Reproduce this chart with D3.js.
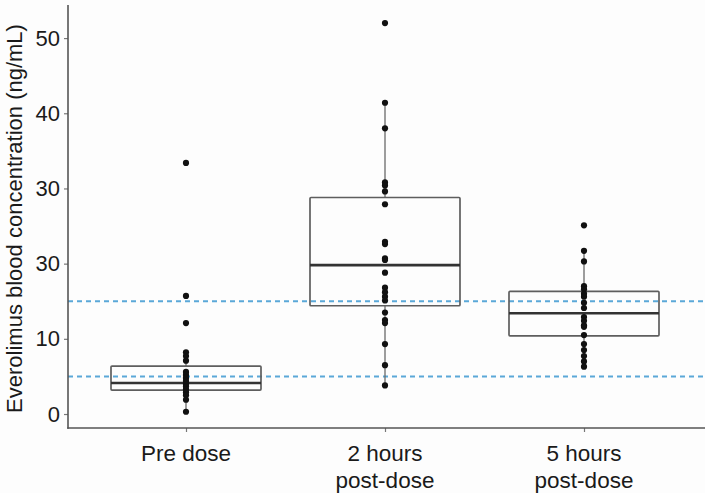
<!DOCTYPE html>
<html>
<head>
<meta charset="utf-8">
<script src="https://cdn.jsdelivr.net/npm/d3@7"></script>
<style>
  html, body { margin: 0; padding: 0; background: #fdfdfd; }
  svg { display: block; }
  text { font-family: "Liberation Sans", Arial, Helvetica, sans-serif; fill: #1a1a1a; }
</style>
</head>
<body>
<svg id="chart" width="705" height="493"></svg>
<script>
// ---- data ----
const categories = ["Pre dose", "2 hours\npost-dose", "5 hours\npost-dose"];

const preDose = [33.4, 15.7, 12.1, 8.2, 7.7, 7.1, 5.6, 5.2, 4.8, 4.4, 4.0, 3.7, 3.3, 2.9, 2.5, 1.9, 0.3];
const twoHours = [52.0, 41.4, 38.0, 30.8, 30.4, 29.6, 27.9, 22.9, 22.6, 20.7, 20.5, 18.8,
                  16.8, 16.2, 15.6, 15.1, 13.5, 12.5, 12.1, 9.3, 6.5, 3.8];
const fiveHours = [25.1, 21.7, 20.3, 17.0, 16.6, 16.0, 15.6, 14.8, 14.1, 12.9, 12.4, 11.8,
                   11.6, 10.5, 9.3, 8.5, 7.7, 7.0, 6.3];

// box statistics per category
const q1 = [3.19, 14.4, 10.4];
const median = [4.12, 19.8, 13.4];
const q3 = [6.38, 28.8, 16.3];
const whiskerLow = [0.3, 3.8, 6.3];
const whiskerHigh = [8.2, 41.4, 21.7];

// reference (therapeutic range) lines
const refLines = [5, 15];

// y tick values and their printed labels (as printed in the original)
const yTickValues = [0, 10, 20, 30, 40, 50];
const yTickLabels = ["0", "10", "30", "30", "40", "50"];

// ---- layout ----
const svg = d3.select("#chart");
const plotLeft = 68, plotRight = 705, plotTop = 5, plotBottom = 428;

const y = d3.scaleLinear().domain([-1.86, 54.4]).range([plotBottom, plotTop]);
const x = d3.scalePoint().domain(categories).range([186, 584]);
const boxWidth = 150;

const series = [preDose, twoHours, fiveHours];

// reference dashed lines
svg.append("g").selectAll("line").data(refLines).join("line")
  .attr("x1", plotLeft).attr("x2", plotRight)
  .attr("y1", d => y(d)).attr("y2", d => y(d))
  .attr("stroke", "#5aa8d8").attr("stroke-width", 2)
  .attr("stroke-dasharray", "5,4");

// boxes
const boxes = svg.append("g");
categories.forEach((c, i) => {
  const cx = x(c);
  const g = boxes.append("g");
  g.append("line").attr("x1", cx).attr("x2", cx)
    .attr("y1", y(q3[i])).attr("y2", y(whiskerHigh[i]))
    .attr("stroke", "#6a6a6a").attr("stroke-width", 1.3);
  g.append("line").attr("x1", cx).attr("x2", cx)
    .attr("y1", y(q1[i])).attr("y2", y(whiskerLow[i]))
    .attr("stroke", "#6a6a6a").attr("stroke-width", 1.3);
  g.append("rect")
    .attr("x", cx - boxWidth / 2).attr("width", boxWidth)
    .attr("y", y(q3[i])).attr("height", y(q1[i]) - y(q3[i]))
    .attr("fill", "none").attr("stroke", "#5e5e5e").attr("stroke-width", 1.7)
    .attr("rx", 1);
  g.append("line")
    .attr("x1", cx - boxWidth / 2).attr("x2", cx + boxWidth / 2)
    .attr("y1", y(median[i])).attr("y2", y(median[i]))
    .attr("stroke", "#333").attr("stroke-width", 2.6);
});

// points
const pts = svg.append("g");
categories.forEach((c, i) => {
  pts.selectAll(null).data(series[i]).join("circle")
    .attr("cx", x(c)).attr("cy", d => y(d)).attr("r", 3.1)
    .attr("fill", "#111");
});

// axes
const yAxis = d3.axisLeft(y).tickValues(yTickValues)
  .tickFormat((d, i) => yTickLabels[i]).tickSize(4).tickPadding(4);
const gy = svg.append("g").attr("transform", `translate(${plotLeft},0)`).call(yAxis);
gy.select(".domain").remove();
gy.selectAll(".tick line").attr("stroke", "#777").attr("stroke-width", 1.2);
gy.selectAll(".tick text").attr("font-size", 22).attr("fill", "#1a1a1a");

svg.append("line").attr("x1", plotLeft).attr("x2", plotLeft)
  .attr("y1", plotTop).attr("y2", plotBottom + 0.8)
  .attr("stroke", "#555").attr("stroke-width", 1.6);

const xAxis = d3.axisBottom(x).tickSize(4).tickFormat("");
const gx = svg.append("g").attr("transform", `translate(0,${plotBottom})`).call(xAxis);
gx.select(".domain").remove();
gx.selectAll(".tick line").attr("stroke", "#777").attr("stroke-width", 1.2);

svg.append("line").attr("x1", plotLeft - 0.8).attr("x2", plotRight)
  .attr("y1", plotBottom).attr("y2", plotBottom)
  .attr("stroke", "#555").attr("stroke-width", 1.6);

// x tick labels (multi-line)
categories.forEach(c => {
  const lines = c.split("\n");
  const t = svg.append("text").attr("text-anchor", "middle").attr("font-size", 22.5);
  lines.forEach((ln, k) => {
    t.append("tspan").attr("x", x(c)).attr("y", 461 + k * 27).text(ln);
  });
});

// y axis title
svg.append("text")
  .attr("transform", `translate(22,${(plotTop + plotBottom) / 2 + 2}) rotate(-90)`)
  .attr("text-anchor", "middle").attr("font-size", 22)
  .text("Everolimus blood concentration (ng/mL)");
</script>
</body>
</html>
